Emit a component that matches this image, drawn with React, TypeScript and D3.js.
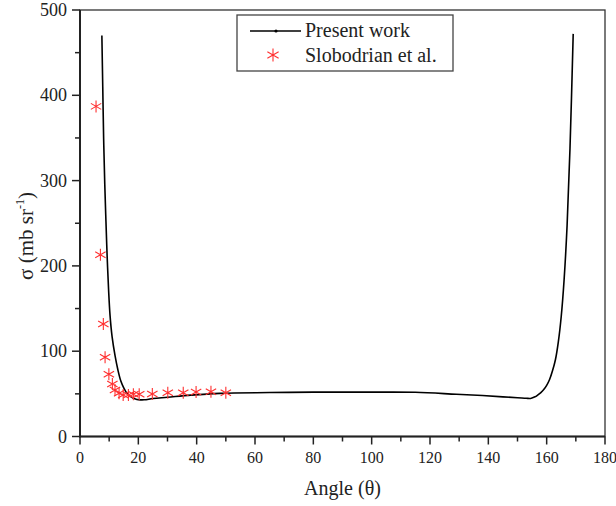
import React from "react";
import * as d3 from "d3";

// Present work (theoretical curve)
const curveAngles = [7.5, 7.8, 8.1, 8.5, 8.9, 9.3, 9.8, 10.3, 11, 12, 13, 14, 15, 16, 17, 18, 19, 20, 22, 25, 30, 38, 48, 65, 80, 100, 115, 129, 138, 145, 150, 153, 154.5, 156, 157, 158, 159, 160, 161, 162, 163, 164, 165, 166, 167, 168, 169.1];
const curveValues = [470, 410, 350, 295, 252, 212, 172, 142, 117, 95, 78, 65, 57, 51, 47.5, 45.5, 44, 43.2, 43, 44.5, 46, 48.5, 50.6, 51.5, 52, 52, 51.8, 49.5, 48, 46.5, 45.5, 44.8, 44.6, 46.5, 48.8, 51.5, 55, 60, 66.8, 77, 90, 111, 141, 185, 247, 338, 472];

// Slobodrian et al. (experimental)
const expAngles = [5.5, 7, 8, 8.6, 9.9, 11.1, 12, 13.4, 14.8, 16.6, 18.3, 20.3, 24.8, 30.1, 35.4, 39.8, 44.9, 50];
const expValues = [387, 213, 132, 93, 73, 61.5, 54.5, 50.6, 48.6, 48.6, 49.5, 49.5, 49.8, 51.3, 51.3, 52.2, 52.5, 51.3];

const xMajor = [0, 20, 40, 60, 80, 100, 120, 140, 160, 180];
const xMinor = [10, 30, 50, 70, 90, 110, 130, 150, 170];
const yMajor = [0, 100, 200, 300, 400, 500];
const yMinor = [50, 150, 250, 350, 450];

const legendLabels = ["Present work", "Slobodrian et al."];

const W = 616, H = 506;
const L = 80, R = 605, T = 10, B = 436.5;
const FONT = "'Liberation Serif', 'Times New Roman', serif";
const RED = "#ff3030";

function starPath(cx: number, cy: number, r: number) {
  const a = Math.PI / 6;
  const dx = r * Math.cos(a), dy = r * Math.sin(a);
  return `M${cx},${cy - r}L${cx},${cy + r}M${cx - dx},${cy - dy}L${cx + dx},${cy + dy}M${cx - dx},${cy + dy}L${cx + dx},${cy - dy}`;
}

export default function App() {
  const x = d3.scaleLinear().domain([0, 180]).range([L, R]);
  const y = d3.scaleLinear().domain([0, 500]).range([B, T]);
  const line = d3
    .line<number>()
    .x((_, i) => x(curveAngles[i]))
    .y((d) => y(d))
    .curve(d3.curveCatmullRom.alpha(0.5));

  return (
    <svg width={W} height={H} style={{ position: "absolute", left: 0, top: 0, background: "#fff" }} fontFamily={FONT}>
      <rect x={0} y={0} width={W} height={H} fill="#fff" />
      {/* curve */}
      <path d={line(curveValues) || ""} fill="none" stroke="#000" strokeWidth={1.6} />
      {/* experimental stars */}
      {expAngles.map((a, i) => (
        <path key={i} d={starPath(x(a), y(expValues[i]), 6)} stroke={RED} strokeWidth={1.1} fill="none" />
      ))}
      {/* frame */}
      <rect x={L} y={T} width={R - L} height={B - T} fill="none" stroke="#333" strokeWidth={1.3} />
      <line x1={L} x2={L} y1={T} y2={B + 0.7} stroke="#222" strokeWidth={2} />
      <line x1={L - 1} x2={R} y1={B} y2={B} stroke="#222" strokeWidth={2} />
      {/* x ticks */}
      {xMajor.map((v) => (
        <g key={"xm" + v}>
          <line x1={x(v)} x2={x(v)} y1={B} y2={B + 8} stroke="#222" strokeWidth={1.5} />
          <text x={x(v)} y={463} fontSize={16} textAnchor="middle" fill="#222">{v}</text>
        </g>
      ))}
      {xMinor.map((v) => (
        <line key={"xn" + v} x1={x(v)} x2={x(v)} y1={B} y2={B + 5} stroke="#222" strokeWidth={1.5} />
      ))}
      {/* y ticks */}
      {yMajor.map((v) => (
        <g key={"ym" + v}>
          <line x1={L - 8} x2={L} y1={y(v)} y2={y(v)} stroke="#222" strokeWidth={1.5} />
          <text x={L - 13} y={y(v) + 6} fontSize={18} textAnchor="end" fill="#222">{v}</text>
        </g>
      ))}
      {yMinor.map((v) => (
        <line key={"yn" + v} x1={L - 5} x2={L} y1={y(v)} y2={y(v)} stroke="#222" strokeWidth={1.5} />
      ))}
      {/* axis titles */}
      <text x={(L + R) / 2} y={495} fontSize={20} textAnchor="middle" fill="#222">Angle (θ)</text>
      <text transform={`translate(33,236) rotate(-90)`} fontSize={21} textAnchor="middle" fill="#222">
        σ (mb sr<tspan fontSize={12} dy={-9}>-1</tspan><tspan dy={9}>)</tspan>
      </text>
      {/* legend */}
      <rect x={237} y={15} width={216} height={56} fill="#fff" stroke="#444" strokeWidth={1.3} />
      <line x1={250} x2={301} y1={31} y2={31} stroke="#000" strokeWidth={1.6} />
      <circle cx={276} cy={31} r={1.6} fill="#000" />
      <text x={305} y={37} fontSize={20} fill="#222">{legendLabels[0]}</text>
      <path d={starPath(273, 55, 6.5)} stroke={RED} strokeWidth={1.1} fill="none" />
      <text x={305} y={62} fontSize={20} fill="#222">{legendLabels[1]}</text>
    </svg>
  );
}
